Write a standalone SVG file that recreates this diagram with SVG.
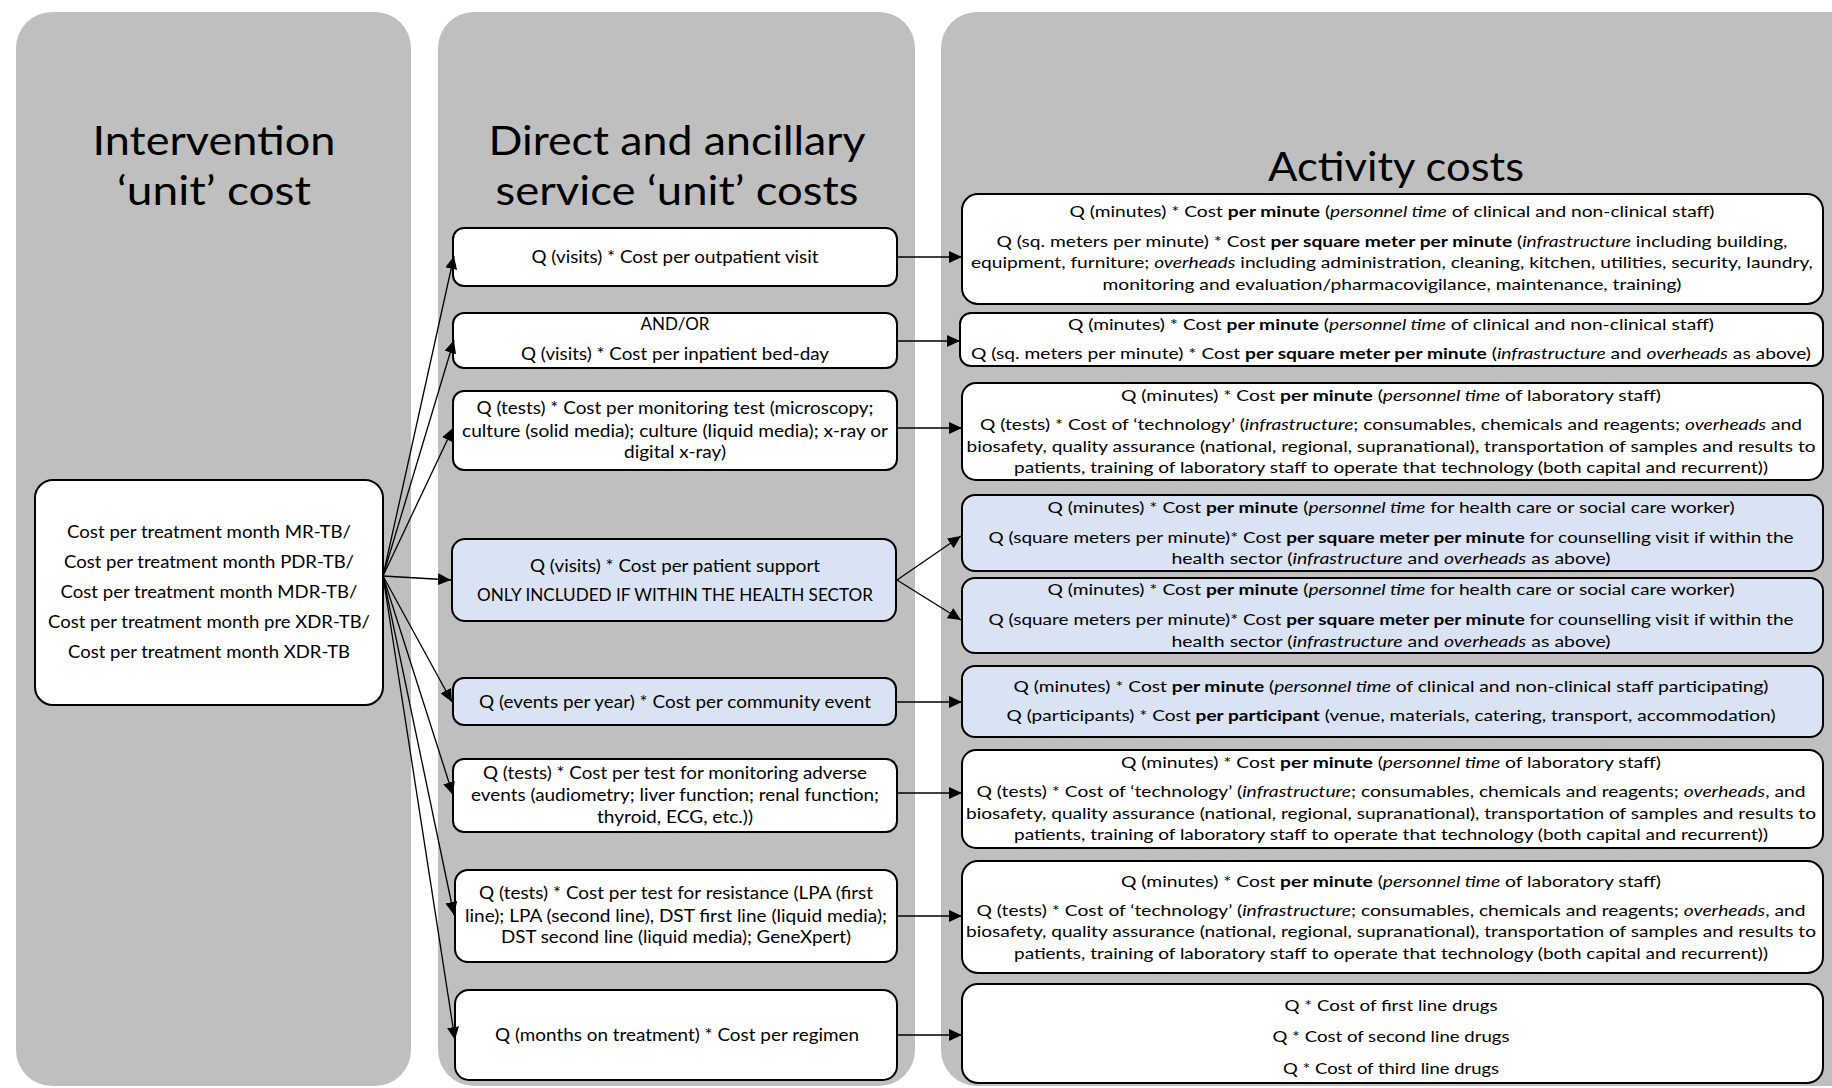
<svg xmlns="http://www.w3.org/2000/svg" width="1832" height="1088" viewBox="0 0 1832 1088">
<style>
.panel{fill:#bfbfbf;stroke:none}
.box{fill:#ffffff;stroke:#000;stroke-width:2}
.blue{fill:#dae3f3;stroke:#000;stroke-width:2}
text{font-family:Lato,"Open Sans","Liberation Sans",sans-serif;fill:#000;text-anchor:middle}
.title{font-size:40px}
.t2{font-size:17px}
.t3{font-size:16px}
.t1{font-size:18px}
.b{font-weight:bold}
.i{font-style:italic}
.conn line{stroke:#000;stroke-width:1.3;marker-end:url(#ah)}
</style>
<defs>
<marker id="ah" markerUnits="userSpaceOnUse" markerWidth="14" markerHeight="12" refX="13" refY="6" orient="auto">
<path d="M0,0 L13,6 L0,12 z" fill="#000"/>
</marker>
</defs>
<rect width="1832" height="1088" fill="#fff"/>
<g id="panel-intervention">
<rect class="panel" x="16" y="12" width="395" height="1074" rx="36"/>
<text class="title" x="214" y="155" textLength="243" lengthAdjust="spacingAndGlyphs">Intervention</text>
<text class="title" x="214" y="205" textLength="194" lengthAdjust="spacingAndGlyphs">‘unit’ cost</text>
</g>
<g id="panel-direct">
<rect class="panel" x="438" y="12" width="477" height="1074" rx="36"/>
<text class="title" x="677" y="155" textLength="377" lengthAdjust="spacingAndGlyphs">Direct and ancillary</text>
<text class="title" x="677" y="205" textLength="363" lengthAdjust="spacingAndGlyphs">service ‘unit’ costs</text>
</g>
<g id="panel-activity">
<rect class="panel" x="941" y="12" width="930" height="1074" rx="36"/>
<text class="title" x="1396" y="181" textLength="256" lengthAdjust="spacingAndGlyphs">Activity costs</text>
</g>

<g id="node-intervention">
<rect class="box" x="35" y="480" width="348" height="225" rx="18"/>
<text class="t1" x="209" y="538" textLength="284" lengthAdjust="spacingAndGlyphs">Cost per treatment month MR-TB/</text>
<text class="t1" x="209" y="568" textLength="290" lengthAdjust="spacingAndGlyphs">Cost per treatment month PDR-TB/</text>
<text class="t1" x="209" y="598" textLength="297" lengthAdjust="spacingAndGlyphs">Cost per treatment month MDR-TB/</text>
<text class="t1" x="209" y="628" textLength="322" lengthAdjust="spacingAndGlyphs">Cost per treatment month pre XDR-TB/</text>
<text class="t1" x="209" y="658" textLength="282" lengthAdjust="spacingAndGlyphs">Cost per treatment month XDR-TB</text>
</g>

<g id="node-outpatient">
<rect class="box" x="453" y="228" width="444" height="58" rx="11"/>
<text class="t2" x="675" y="263" textLength="287" lengthAdjust="spacingAndGlyphs">Q (visits) * Cost per outpatient visit</text>
</g>
<g id="node-inpatient">
<rect class="box" x="453" y="313" width="444" height="55" rx="11"/>
<text class="t2" x="675" y="330">AND/OR</text>
<text class="t2" x="675" y="360" textLength="308" lengthAdjust="spacingAndGlyphs">Q (visits) * Cost per inpatient bed-day</text>
</g>
<g id="node-monitoring">
<rect class="box" x="453" y="391" width="444" height="79" rx="11"/>
<text class="t2" x="675" y="414" textLength="397" lengthAdjust="spacingAndGlyphs">Q (tests) * Cost per monitoring test (microscopy;</text>
<text class="t2" x="675" y="437" textLength="426" lengthAdjust="spacingAndGlyphs">culture (solid media); culture (liquid media); x-ray or</text>
<text class="t2" x="675" y="458" textLength="102" lengthAdjust="spacingAndGlyphs">digital x-ray)</text>
</g>
<g id="node-patient-support">
<rect class="blue" x="452" y="539" width="444" height="82" rx="13"/>
<text class="t2" x="675" y="572" textLength="290" lengthAdjust="spacingAndGlyphs">Q (visits) * Cost per patient support</text>
<text class="t2" x="675" y="601" textLength="396" lengthAdjust="spacingAndGlyphs">ONLY INCLUDED IF WITHIN THE HEALTH SECTOR</text>
</g>
<g id="node-community">
<rect class="blue" x="453" y="678" width="443" height="47" rx="11"/>
<text class="t2" x="675" y="708" textLength="392" lengthAdjust="spacingAndGlyphs">Q (events per year) * Cost per community event</text>
</g>
<g id="node-adverse">
<rect class="box" x="453" y="759" width="444" height="73" rx="11"/>
<text class="t2" x="675" y="779" textLength="384" lengthAdjust="spacingAndGlyphs">Q (tests) * Cost per test for monitoring adverse</text>
<text class="t2" x="675" y="801" textLength="408" lengthAdjust="spacingAndGlyphs">events (audiometry; liver function; renal function;</text>
<text class="t2" x="675" y="823" textLength="156" lengthAdjust="spacingAndGlyphs">thyroid, ECG, etc.))</text>
</g>
<g id="node-resistance">
<rect class="box" x="455" y="870" width="442" height="92" rx="13"/>
<text class="t2" x="676" y="899" textLength="394" lengthAdjust="spacingAndGlyphs">Q (tests) * Cost per test for resistance (LPA (first</text>
<text class="t2" x="676" y="922" textLength="422" lengthAdjust="spacingAndGlyphs">line); LPA (second line), DST first line (liquid media);</text>
<text class="t2" x="676" y="943" textLength="350" lengthAdjust="spacingAndGlyphs">DST second line (liquid media); GeneXpert)</text>
</g>
<g id="node-regimen">
<rect class="box" x="455" y="990" width="442" height="90" rx="14"/>
<text class="t2" x="677" y="1041" textLength="364" lengthAdjust="spacingAndGlyphs">Q (months on treatment) * Cost per regimen</text>
</g>

<g id="node-act-outpatient">
<rect class="box" x="962" y="194" width="861" height="110" rx="16"/>
<text class="t3" x="1392" y="217" textLength="645" lengthAdjust="spacingAndGlyphs">Q (minutes) * Cost <tspan class="b">per minute</tspan> (<tspan class="i">personnel time</tspan> of clinical and non-clinical staff)</text>
<text class="t3" x="1392" y="247" textLength="791" lengthAdjust="spacingAndGlyphs">Q (sq. meters per minute) * Cost <tspan class="b">per square meter per minute</tspan> (<tspan class="i">infrastructure</tspan> including building,</text>
<text class="t3" x="1392" y="268" textLength="842" lengthAdjust="spacingAndGlyphs">equipment, furniture; <tspan class="i">overheads</tspan> including administration, cleaning, kitchen, utilities, security, laundry,</text>
<text class="t3" x="1392" y="290" textLength="579" lengthAdjust="spacingAndGlyphs">monitoring and evaluation/pharmacovigilance, maintenance, training)</text>
</g>
<g id="node-act-inpatient">
<rect class="box" x="960" y="313" width="863" height="53" rx="11"/>
<text class="t3" x="1391" y="330" textLength="646" lengthAdjust="spacingAndGlyphs">Q (minutes) * Cost <tspan class="b">per minute</tspan> (<tspan class="i">personnel time</tspan> of clinical and non-clinical staff)</text>
<text class="t3" x="1391" y="359" textLength="840" lengthAdjust="spacingAndGlyphs">Q (sq. meters per minute) * Cost <tspan class="b">per square meter per minute</tspan> (<tspan class="i">infrastructure</tspan> and <tspan class="i">overheads</tspan> as above)</text>
</g>
<g id="node-act-monitoring">
<rect class="box" x="962" y="383" width="861" height="97" rx="14"/>
<text class="t3" x="1391" y="401" textLength="540" lengthAdjust="spacingAndGlyphs">Q (minutes) * Cost <tspan class="b">per minute</tspan> (<tspan class="i">personnel time</tspan> of laboratory staff)</text>
<text class="t3" x="1391" y="430" textLength="822" lengthAdjust="spacingAndGlyphs">Q (tests) * Cost of ‘technology’ (<tspan class="i">infrastructure</tspan>; consumables, chemicals and reagents; <tspan class="i">overheads</tspan> and</text>
<text class="t3" x="1391" y="452" textLength="849" lengthAdjust="spacingAndGlyphs">biosafety, quality assurance (national, regional, supranational), transportation of samples and results to</text>
<text class="t3" x="1391" y="473" textLength="754" lengthAdjust="spacingAndGlyphs">patients, training of laboratory staff to operate that technology (both capital and recurrent))</text>
</g>
<g id="node-act-support-1">
<rect class="blue" x="962" y="495" width="861" height="76" rx="13"/>
<text class="t3" x="1391" y="513" textLength="687" lengthAdjust="spacingAndGlyphs">Q (minutes) * Cost <tspan class="b">per minute</tspan> (<tspan class="i">personnel time</tspan> for health care or social care worker)</text>
<text class="t3" x="1391" y="543" textLength="805" lengthAdjust="spacingAndGlyphs">Q (square meters per minute)* Cost <tspan class="b">per square meter per minute</tspan> for counselling visit if within the</text>
<text class="t3" x="1391" y="564" textLength="439" lengthAdjust="spacingAndGlyphs">health sector (<tspan class="i">infrastructure</tspan> and <tspan class="i">overheads</tspan> as above)</text>
</g>
<g id="node-act-support-2">
<rect class="blue" x="962" y="578" width="861" height="75" rx="13"/>
<text class="t3" x="1391" y="595" textLength="687" lengthAdjust="spacingAndGlyphs">Q (minutes) * Cost <tspan class="b">per minute</tspan> (<tspan class="i">personnel time</tspan> for health care or social care worker)</text>
<text class="t3" x="1391" y="625" textLength="805" lengthAdjust="spacingAndGlyphs">Q (square meters per minute)* Cost <tspan class="b">per square meter per minute</tspan> for counselling visit if within the</text>
<text class="t3" x="1391" y="647" textLength="439" lengthAdjust="spacingAndGlyphs">health sector (<tspan class="i">infrastructure</tspan> and <tspan class="i">overheads</tspan> as above)</text>
</g>
<g id="node-act-community">
<rect class="blue" x="962" y="666" width="861" height="71" rx="13"/>
<text class="t3" x="1391" y="692" textLength="755" lengthAdjust="spacingAndGlyphs">Q (minutes) * Cost <tspan class="b">per minute</tspan> (<tspan class="i">personnel time</tspan> of clinical and non-clinical staff participating)</text>
<text class="t3" x="1391" y="721" textLength="769" lengthAdjust="spacingAndGlyphs">Q (participants) * Cost <tspan class="b">per participant</tspan> (venue, materials, catering, transport, accommodation)</text>
</g>
<g id="node-act-adverse">
<rect class="box" x="962" y="750" width="861" height="98" rx="14"/>
<text class="t3" x="1391" y="768" textLength="540" lengthAdjust="spacingAndGlyphs">Q (minutes) * Cost <tspan class="b">per minute</tspan> (<tspan class="i">personnel time</tspan> of laboratory staff)</text>
<text class="t3" x="1391" y="797" textLength="829" lengthAdjust="spacingAndGlyphs">Q (tests) * Cost of ‘technology’ (<tspan class="i">infrastructure</tspan>; consumables, chemicals and reagents; <tspan class="i">overheads</tspan>, and</text>
<text class="t3" x="1391" y="819" textLength="850" lengthAdjust="spacingAndGlyphs">biosafety, quality assurance (national, regional, supranational), transportation of samples and results to</text>
<text class="t3" x="1391" y="840" textLength="754" lengthAdjust="spacingAndGlyphs">patients, training of laboratory staff to operate that technology (both capital and recurrent))</text>
</g>
<g id="node-act-resistance">
<rect class="box" x="962" y="861" width="861" height="112" rx="16"/>
<text class="t3" x="1391" y="887" textLength="540" lengthAdjust="spacingAndGlyphs">Q (minutes) * Cost <tspan class="b">per minute</tspan> (<tspan class="i">personnel time</tspan> of laboratory staff)</text>
<text class="t3" x="1391" y="916" textLength="829" lengthAdjust="spacingAndGlyphs">Q (tests) * Cost of ‘technology’ (<tspan class="i">infrastructure</tspan>; consumables, chemicals and reagents; <tspan class="i">overheads</tspan>, and</text>
<text class="t3" x="1391" y="937" textLength="850" lengthAdjust="spacingAndGlyphs">biosafety, quality assurance (national, regional, supranational), transportation of samples and results to</text>
<text class="t3" x="1391" y="959" textLength="754" lengthAdjust="spacingAndGlyphs">patients, training of laboratory staff to operate that technology (both capital and recurrent))</text>
</g>
<g id="node-act-drugs">
<rect class="box" x="962" y="984" width="861" height="99" rx="16"/>
<text class="t3" x="1391" y="1011" textLength="213" lengthAdjust="spacingAndGlyphs">Q * Cost of first line drugs</text>
<text class="t3" x="1391" y="1042" textLength="237" lengthAdjust="spacingAndGlyphs">Q * Cost of second line drugs</text>
<text class="t3" x="1391" y="1074" textLength="216" lengthAdjust="spacingAndGlyphs">Q * Cost of third line drugs</text>
</g>

<g id="connectors" class="conn">
<line x1="383" y1="576" x2="454" y2="256"/>
<line x1="383" y1="576" x2="454" y2="340"/>
<line x1="383" y1="576" x2="453" y2="428"/>
<line x1="383" y1="576" x2="451" y2="580"/>
<line x1="383" y1="576" x2="452" y2="702"/>
<line x1="383" y1="576" x2="453" y2="795"/>
<line x1="383" y1="576" x2="454" y2="915"/>
<line x1="383" y1="576" x2="455" y2="1040"/>
<line x1="897" y1="257" x2="962" y2="257"/>
<line x1="897" y1="341" x2="960" y2="341"/>
<line x1="897" y1="428" x2="962" y2="428"/>
<line x1="897" y1="580" x2="961" y2="536"/>
<line x1="897" y1="580" x2="961" y2="620"/>
<line x1="896" y1="702" x2="962" y2="702"/>
<line x1="897" y1="793" x2="962" y2="793"/>
<line x1="897" y1="916" x2="962" y2="916"/>
<line x1="897" y1="1035" x2="962" y2="1035"/>
</g>
</svg>
